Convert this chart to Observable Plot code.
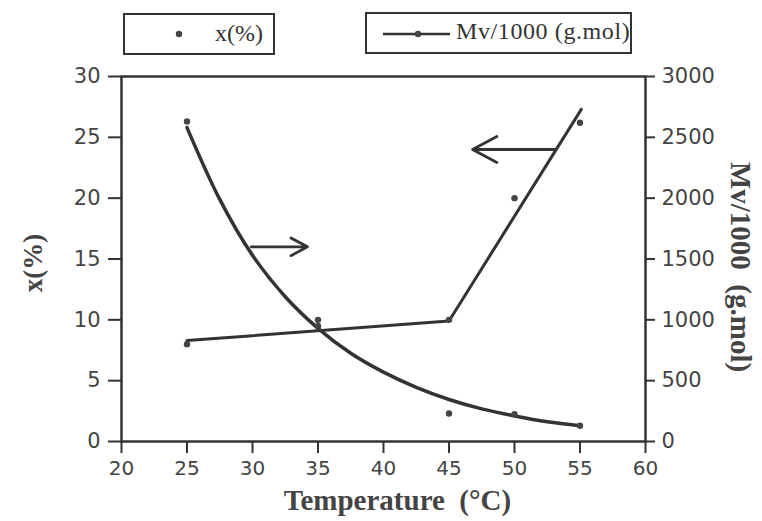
<!DOCTYPE html>
<html>
<head>
<meta charset="utf-8">
<script src="https://cdn.jsdelivr.net/npm/d3@7"></script>
<script src="https://cdn.jsdelivr.net/npm/@observablehq/plot@0.6"></script>
<style>
  html, body { margin: 0; padding: 0; background: white; }
  #wrap { position: relative; width: 762px; height: 521px; overflow: hidden; }
  #legend { position: relative; width: 762px; height: 62px; }
  .box { position: absolute; border: 2.5px solid #333; box-sizing: border-box; background: white; }
  .lt { position: absolute; font-family: "Liberation Serif", serif; font-size: 24px; color: #333; white-space: nowrap; }
</style>
</head>
<body>
<div id="wrap">
  <div id="legend">
    <div class="box" style="left:123px;top:13px;width:152px;height:42px;">
      <svg width="20" height="20" style="position:absolute;left:44px;top:9px"><circle cx="10" cy="10" r="3.2" fill="#444"/></svg>
      <span class="lt" style="left:90px;top:5px;">x(%)</span>
    </div>
    <div class="box" style="left:365px;top:12px;width:267px;height:42px;">
      <svg width="72" height="20" style="position:absolute;left:16px;top:9px"><line x1="0" y1="11" x2="67" y2="11" stroke="#333" stroke-width="2.5"/><circle cx="35" cy="11" r="3.2" fill="#444"/></svg>
      <span class="lt" style="left:89px;top:4px;letter-spacing:0.6px;">Mv/1000 (g.mol)</span>
    </div>
  </div>
  <div id="chart"></div>
</div>
<script>
// ---- data ----
const temps = [25, 35, 45, 50, 55];
const xPercent = [8, 10, 10, 20, 26.2];          // dots, left axis
const mvValues = [2630, 950, 230, 225, 130];     // dots, right axis (Mv/1000)

// fitted x(%) broken line
const fitT = [25, 45, 55.1];
const fitX = [8.3, 9.9, 27.3];

// smooth Mv curve
const curveT  = [25, 27.5, 30, 32.5, 35, 37.5, 40, 42.5, 45, 47.5, 50, 52.5, 55];
const curveMv = [2580, 1990, 1530, 1190, 930, 725, 570, 445, 345, 268, 210, 162, 130];

// arrows (axis indicators), in temperature / left-axis units
const arrowX1 = [29.9, 53.1];
const arrowX2 = [34.2, 46.8];
const arrowY  = [16, 24];

const xTicks = [20, 25, 30, 35, 40, 45, 50, 55, 60];
const yTicks = [0, 5, 10, 15, 20, 25, 30];
const mvTicks = [0, 500, 1000, 1500, 2000, 2500, 3000];

const xTitle = "Temperature  (°C)";
const yTitle = "x(%)";
const y2Title = "Mv/1000  (g.mol)";

// ---- build tables ----
const mvPerLeft = 3000 / 30; // right axis 0–3000 shares frame with left 0–30
const dotsX = temps.map((t, i) => ({t, v: xPercent[i]}));
const dotsMv = temps.map((t, i) => ({t, v: mvValues[i] / mvPerLeft}));
const fit = fitT.map((t, i) => ({t, v: fitX[i]}));
const curve = curveT.map((t, i) => ({t, v: curveMv[i] / mvPerLeft}));
const arrows = arrowX1.map((x1, i) => ({x1, x2: arrowX2[i], y: arrowY[i]}));

const ink = "#333";
const serif = "Liberation Serif, serif";

const chart = Plot.plot({
  width: 762,
  height: 459,
  marginLeft: 121,
  marginRight: 117,
  marginTop: 14,
  marginBottom: 80,
  style: {fontFamily: "DejaVu Sans, sans-serif", fontSize: "20px", color: "#444", background: "white", overflow: "visible"},
  x: {domain: [20, 60]},
  y: {domain: [0, 30]},
  marks: [
    Plot.frame({stroke: ink, strokeWidth: 2.5}),
    Plot.axisX({ticks: xTicks, tickSize: 12, tickPadding: 7, label: null, stroke: ink, strokeWidth: 2, fill: "#444"}),
    Plot.axisY({anchor: "left", ticks: yTicks, tickSize: 13, tickPadding: 8, label: null, stroke: ink, strokeWidth: 2, fill: "#444", fontSize: 21}),
    Plot.axisY({anchor: "right", ticks: mvTicks.map(v => v / mvPerLeft), tickFormat: v => String(Math.round(v * mvPerLeft)),
      tickSize: 9, tickPadding: 7, label: null, stroke: ink, strokeWidth: 2, fill: "#444", fontSize: 21}),
    Plot.line(fit, {x: "t", y: "v", stroke: ink, strokeWidth: 3}),
    Plot.line(curve, {x: "t", y: "v", curve: "catmull-rom", stroke: ink, strokeWidth: 3.5}),
    Plot.dot(dotsX, {x: "t", y: "v", r: 3.2, fill: "#444"}),
    Plot.dot(dotsMv, {x: "t", y: "v", r: 3.2, fill: "#444"}),
    Plot.arrow(arrows, {x1: "x1", x2: "x2", y1: "y", y2: "y", stroke: ink, strokeWidth: 2.8, headLength: 18, headAngle: 56}),
    Plot.text([xTitle], {frameAnchor: "bottom", textAnchor: "middle", dx: 14, dy: 68, text: d => d, fontFamily: serif, fontWeight: "bold", fontSize: 29, fill: "#444"}),
    Plot.text([yTitle], {frameAnchor: "left", textAnchor: "middle", dx: -88, dy: 4, rotate: -90, text: d => d, fontFamily: serif, fontWeight: "bold", fontSize: 27, fill: "#444"}),
    Plot.text([y2Title], {frameAnchor: "right", textAnchor: "middle", dx: 95, dy: 8, rotate: 90, text: d => d, fontFamily: serif, fontWeight: "bold", fontSize: 29, fill: "#444"})
  ]
});
document.getElementById("chart").appendChild(chart);
</script>
</body>
</html>
